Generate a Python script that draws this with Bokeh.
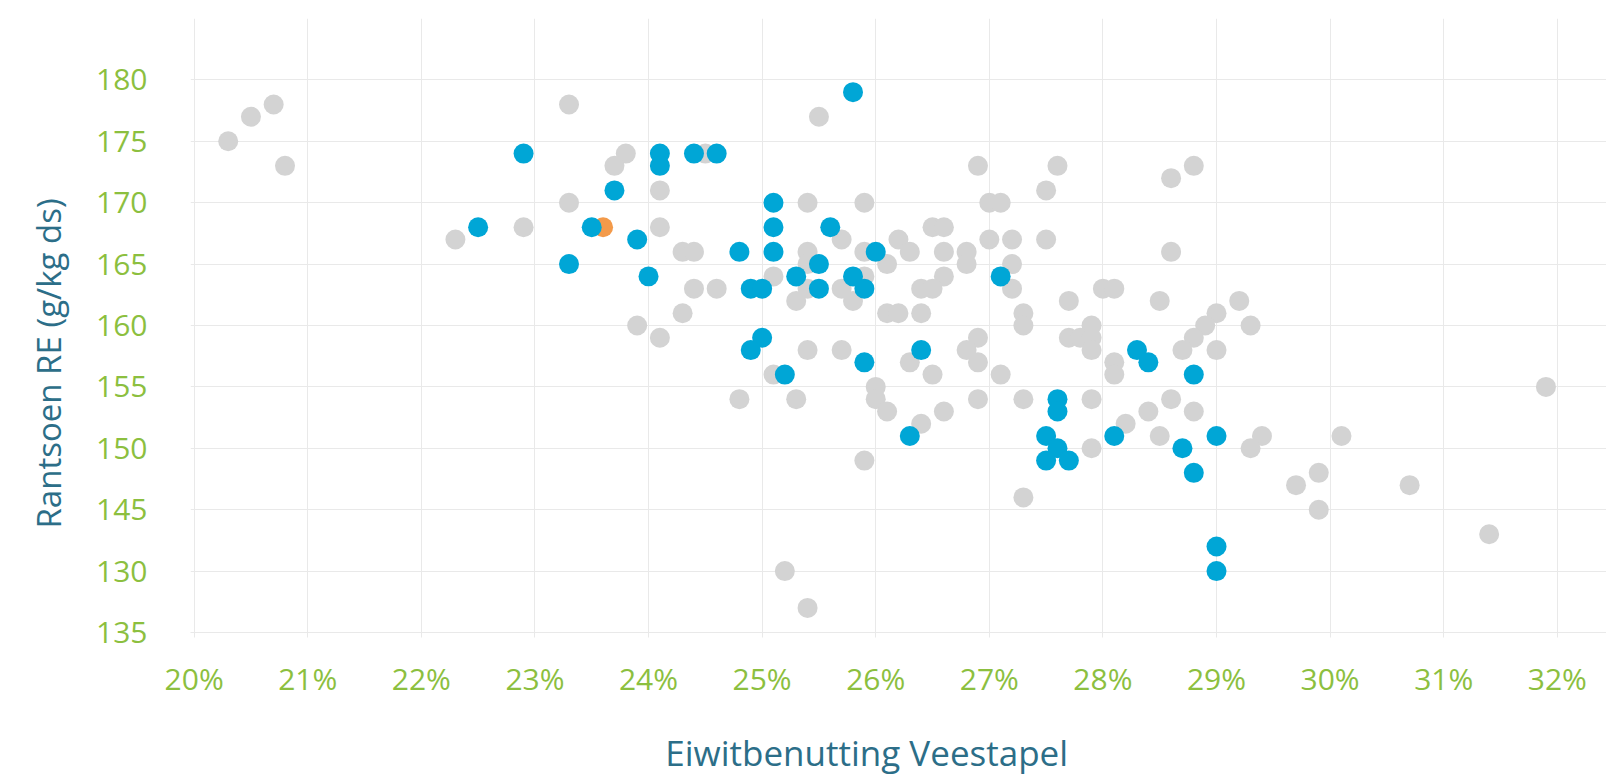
from bokeh.plotting import figure
from bokeh.models import FixedTicker, Range1d, Title
from bokeh.embed import file_html
from bokeh.resources import INLINE

# ---- data (x = Eiwitbenutting Veestapel in %, y = Rantsoen RE g/kg ds, axis position) ----
grey_x = [20.3, 20.5, 20.7, 20.8, 22.3, 22.9,
          23.3, 25.5, 23.8, 23.7, 24.5, 24.1, 23.3, 25.4, 25.9, 24.1, 25.7, 24.3, 24.4, 25.4,
          25.9, 25.4, 25.1, 25.9, 24.4, 24.6, 25.4, 25.7, 25.3, 25.8, 24.3, 23.9, 24.1, 25.4,
          25.7, 25.1,
          24.8, 25.3, 25.9, 25.2, 25.4,
          26.9, 27.6, 27.5, 28.6, 28.8, 27.0, 27.1, 26.5, 26.6, 26.2, 27.0, 27.2, 27.5, 26.3,
          26.6, 26.8, 28.6, 26.1, 26.8, 27.2, 26.6, 26.4, 26.5, 27.2, 27.7, 28.0, 28.1, 28.5,
          29.2, 26.1, 26.2, 26.4, 27.3, 27.3, 29.0, 29.3, 28.9, 27.9, 27.7, 27.8, 27.9, 26.9,
          28.8, 26.8, 27.9, 28.7, 29.0, 26.3, 26.9, 28.1, 26.5, 27.1, 28.1,
          26.0, 26.0, 26.1, 26.9, 27.3, 27.9, 26.6, 26.4, 28.6, 28.4, 28.8, 28.2, 28.5, 29.4,
          29.3, 27.9, 27.3,
          31.9, 30.1, 29.9, 29.7, 29.9, 30.7, 31.4]
grey_y = [175, 177, 178, 173, 167, 168,
          178, 177, 174, 173, 174, 171, 170, 170, 170, 168, 167, 166, 166, 166,
          166, 165, 164, 164, 163, 163, 163, 163, 162, 162, 161, 160, 159, 158,
          158, 156,
          154, 154, 149, 140, 137,
          173, 173, 171, 172, 173, 170, 170, 168, 168, 167, 167, 167, 167, 166,
          166, 166, 166, 165, 165, 165, 164, 163, 163, 163, 162, 163, 163, 162,
          162, 161, 161, 161, 161, 160, 161, 160, 160, 160, 159, 159, 159, 159,
          159, 158, 158, 158, 158, 157, 157, 157, 156, 156, 156,
          155, 154, 153, 154, 154, 154, 153, 152, 154, 153, 153, 152, 151, 151,
          150, 150, 146,
          155, 151, 148, 147, 145, 147, 143]

blue_x = [22.5, 22.9,
          25.8, 24.1, 24.1, 24.4, 24.6, 23.7, 25.1, 23.5, 25.1, 25.6, 23.9, 24.8, 25.1, 26.0,
          25.5, 23.3, 24.0, 25.3, 25.8, 24.9, 25.0, 25.5, 25.9, 25.0, 24.9, 25.9, 25.2,
          27.1, 26.4, 28.3, 28.4, 28.8,
          27.6, 27.6, 26.3, 28.1, 29.0, 27.5, 27.6, 27.5, 27.7, 28.7, 28.8, 29.0, 29.0]
blue_y = [168, 174,
          179, 174, 173, 174, 174, 171, 170, 168, 168, 168, 167, 166, 166, 166,
          165, 165, 164, 164, 164, 163, 163, 163, 163, 159, 158, 157, 156,
          164, 158, 158, 157, 156,
          154, 153, 151, 151, 151, 151, 150, 149, 149, 150, 148, 142, 140]

orange_x = [23.6]
orange_y = [168]

x_ticks = [20, 21, 22, 23, 24, 25, 26, 27, 28, 29, 30, 31, 32]
x_tick_labels = ["20%", "21%", "22%", "23%", "24%", "25%", "26%", "27%", "28%", "29%", "30%", "31%", "32%"]
y_ticks = [135, 140, 145, 150, 155, 160, 165, 170, 175, 180]
y_tick_labels = ["135", "130", "145", "150", "155", "160", "165", "170", "175", "180"]

x_title = "Eiwitbenutting Veestapel"
y_title = "Rantsoen RE (g/kg ds)"

# ---- styling ----
GREY = "#d3d3d3"
BLUE = "#00a6d6"
ORANGE = "#f39a4a"
GREEN = "#8cbf3f"
TEAL = "#2c6e88"
GRID = "#e9e9e9"
FONT = "Open Sans"

p = figure(width=1606, height=778,
           x_range=Range1d(19.968, 32.433), y_range=Range1d(135, 185),
           output_backend="svg", toolbar_location=None,
           min_border_left=190, min_border_right=0, min_border_top=18, min_border_bottom=146)
p.outline_line_color = None
p.background_fill_color = "white"
p.border_fill_color = "white"

p.scatter(grey_x, grey_y, size=20, fill_color=GREY, line_color=None)
p.scatter(orange_x, orange_y, size=20, fill_color=ORANGE, line_color=None)
p.scatter(blue_x, blue_y, size=20, fill_color=BLUE, line_color=None)

p.xaxis.ticker = FixedTicker(ticks=x_ticks)
p.xaxis.major_label_overrides = dict(zip(x_ticks, x_tick_labels))
p.yaxis.ticker = FixedTicker(ticks=y_ticks)
p.yaxis.major_label_overrides = dict(zip(y_ticks, y_tick_labels))

for ax in (p.xaxis[0], p.yaxis[0]):
    ax.major_label_text_font = FONT
    ax.major_label_text_font_size = "30px"
    ax.major_label_text_color = GREEN
    ax.minor_tick_line_color = None

# x title: axis label (trailing no-break spaces move its centre to the left like the reference)
p.xaxis.axis_label = x_title + "\u00a0" * 7
p.xaxis.axis_label_text_font = FONT
p.xaxis.axis_label_text_font_size = "35px"
p.xaxis.axis_label_text_font_style = "normal"
p.xaxis.axis_label_text_color = TEAL
p.xaxis.axis_label_standoff = 27

p.xaxis.axis_line_color = GRID
p.xaxis.major_tick_line_color = GRID
p.xaxis.major_tick_in = 0
p.xaxis.major_tick_out = 5
p.xaxis.major_label_standoff = 20

p.yaxis.axis_line_color = None
p.yaxis.major_tick_line_color = None
p.yaxis.major_tick_in = 0
p.yaxis.major_tick_out = 0
p.yaxis.major_label_standoff = 43

p.xgrid.ticker = FixedTicker(ticks=x_ticks)
p.ygrid.ticker = FixedTicker(ticks=y_ticks)
p.grid.grid_line_color = GRID
p.grid.grid_line_width = 1

# y title as a side title panel, shifted down like the reference
p.add_layout(Title(text=y_title, align="left", offset=104, standoff=46,
                   text_font=FONT, text_font_size="33px", text_font_style="normal",
                   text_color=TEAL), "left")

open("out.html", "w").write(file_html(p, INLINE))
